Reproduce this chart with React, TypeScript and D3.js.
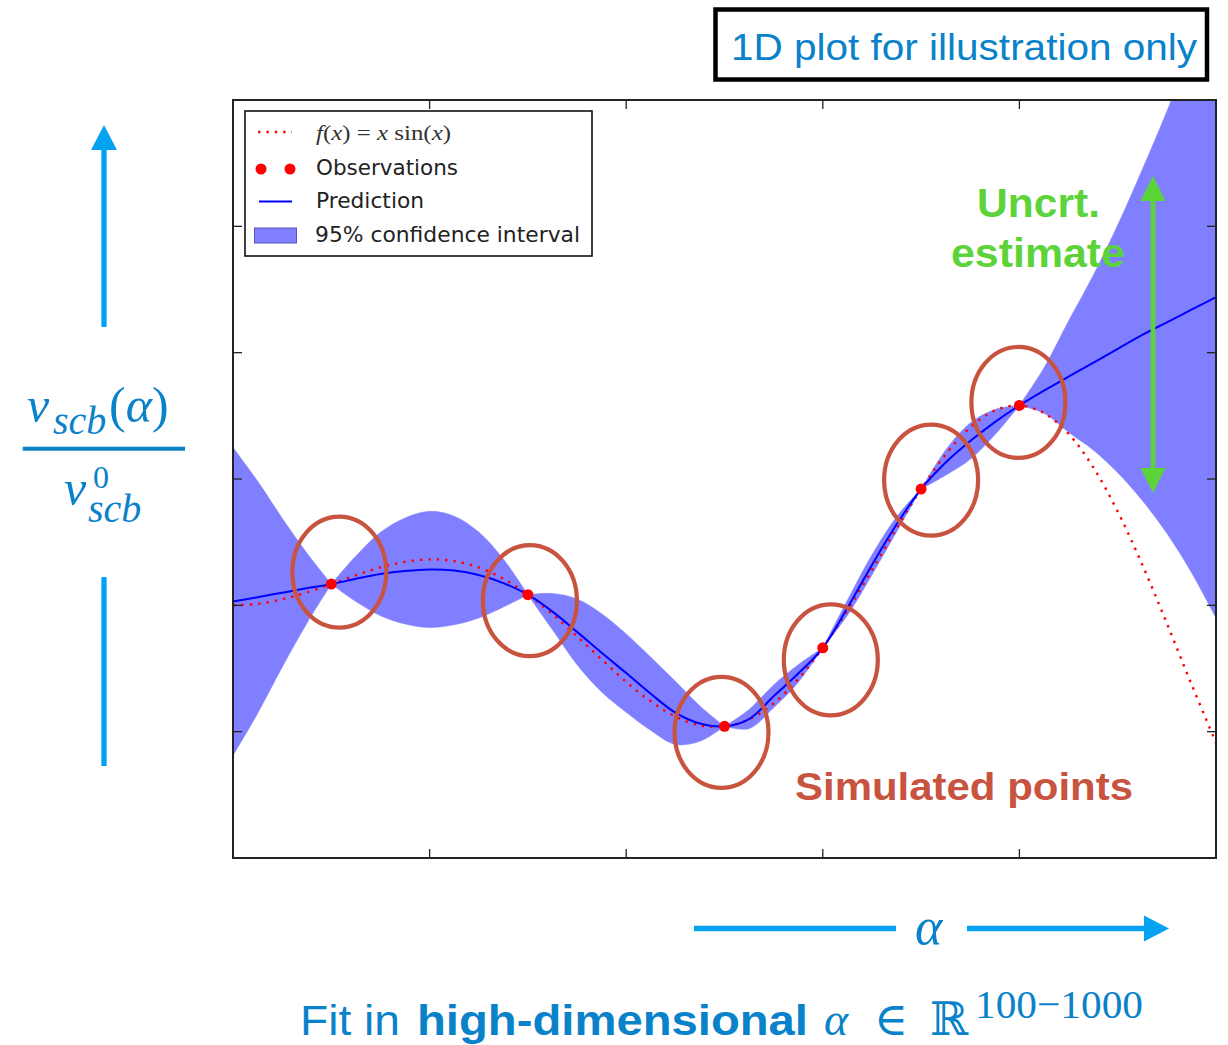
import React from 'react';
import * as d3 from 'd3';

// ---------- data ----------
const X_GRID = [0, 0.25, 0.5, 0.75, 1, 1.25, 1.5, 1.75, 2, 2.25, 2.5, 2.75, 3, 3.25, 3.5, 3.75, 4, 4.25, 4.5, 4.75, 5, 5.25, 5.5, 5.75, 6, 6.25, 6.5, 6.75, 7, 7.25, 7.5, 7.75, 8, 8.25, 8.5, 8.75, 9, 9.25, 9.5, 9.75, 10];

// f(x) = x sin(x) (red dotted curve)
const F_TRUE = [0, 0.06, 0.24, 0.51, 0.84, 1.19, 1.5, 1.72, 1.82, 1.75, 1.5, 1.05, 0.42, -0.35, -1.23, -2.14, -3.03, -3.8, -4.4, -4.75, -4.79, -4.51, -3.88, -2.92, -1.68, -0.21, 1.4, 3.04, 4.6, 5.97, 7.04, 7.71, 7.91, 7.61, 6.79, 5.47, 3.71, 1.61, -0.71, -3.12, -5.44];

// GP prediction (blue line)
const PRED = [0.15, 0.32, 0.5, 0.68, 0.84, 1.05, 1.24, 1.36, 1.42, 1.38, 1.2, 0.88, 0.42, -0.25, -1.05, -1.88, -2.68, -3.5, -4.25, -4.68, -4.79, -4.5, -3.6, -2.7, -1.68, -0.1, 1.6, 3.2, 4.6, 5.65, 6.5, 7.25, 7.91, 8.5, 9.05, 9.6, 10.15, 10.7, 11.2, 11.7, 12.2];

// half width of the 95% confidence interval
const CI_HALF = [6.1, 4.6, 2.95, 1.4, 0, 0.9, 1.65, 2.1, 2.3, 2.15, 1.7, 0.95, 0, 0.72, 1.3, 1.55, 1.55, 1.45, 1.25, 0.7, 0, 0.38, 0.45, 0.35, 0, 0.3, 0.4, 0.3, 0, 0.5, 0.72, 0.5, 0, 0.9, 2.2, 3.45, 4.9, 6.55, 8.35, 10.4, 12.7];

const OBS_X = [1, 3, 5, 6, 7, 8];
const OBS_Y = [0.84, 0.42, -4.79, -1.68, 4.6, 7.91];

const X_TICKS = [2, 4, 6, 8];
const Y_TICKS = [-5, 0, 5, 10, 15];

const LEGEND_LABELS = ['Observations', 'Prediction', '95% confidence interval'];

// ---------- styles ----------
const BAND = '#7f7fff';
const LINE_BLUE = '#0000ff';
const RED = '#ff0000';
const CIRCLE = '#c8533f';
const GREEN = '#5dd33a';
const TEXT_BLUE = '#0a82ca';
const ARROW_BLUE = '#06a2f2';
const SANS = '"Liberation Sans", Arial, Helvetica, sans-serif';
const SERIF = '"Liberation Serif", "DejaVu Serif", serif';
const MPL = '"DejaVu Sans", sans-serif';

// annotation ellipse offsets (px) relative to each observation
const ELL_DX = [8, 2, -3, 8, 10, -1];
const ELL_DY = [-12, 6, 6, 12, -9, -3];

export default function App() {
  const x = d3.scaleLinear().domain([0, 10]).range([233, 1216]);
  const y = d3.scaleLinear().domain([-10, 20]).range([858, 100]);
  const [x0, x1] = x.range();
  const [yb, yt] = y.range();

  const idx = X_GRID.map((_, i) => i);
  const lineF = d3
    .line<number>()
    .x((i) => x(X_GRID[i]))
    .y((i) => y(F_TRUE[i]))
    .curve(d3.curveCatmullRom.alpha(0.5));
  const lineP = d3
    .line<number>()
    .x((i) => x(X_GRID[i]))
    .y((i) => y(PRED[i]))
    .curve(d3.curveCatmullRom.alpha(0.5));
  const area = d3
    .area<number>()
    .x((i) => x(X_GRID[i]))
    .y0((i) => y(PRED[i] - CI_HALF[i]))
    .y1((i) => y(PRED[i] + CI_HALF[i]))
    .curve(d3.curveCatmullRom.alpha(0.5));

  // split the band where it pinches to zero
  const breaks = [0, ...idx.filter((i) => CI_HALF[i] === 0), idx.length - 1];
  const segments: number[][] = [];
  for (let k = 0; k < breaks.length - 1; k++) {
    if (breaks[k + 1] > breaks[k]) segments.push(d3.range(breaks[k], breaks[k + 1] + 1));
  }

  return (
    <svg
      width={1228}
      height={1045}
      style={{ position: 'absolute', left: 0, top: 0, background: '#fff' }}
    >
      <defs>
        <clipPath id="plotClip">
          <rect x={x0} y={yt} width={x1 - x0} height={yb - yt} />
        </clipPath>
      </defs>

      {/* top-right note */}
      <rect x={715.5} y={9.5} width={1207 - 715.5} height={79.5 - 9.5} fill="#fff" stroke="#000" strokeWidth={4.5} />
      <text x={731} y={59.5} fontFamily={SANS} fontSize={37} fill={TEXT_BLUE} textLength={466} lengthAdjust="spacingAndGlyphs">
        1D plot for illustration only
      </text>

      {/* plot content */}
      <g clipPath="url(#plotClip)">
        {segments.map((s, k) => (
          <path key={k} d={area(s) || ''} fill={BAND} stroke={BAND} strokeWidth={0.5} />
        ))}
        <path d={lineF(idx) || ''} fill="none" stroke={RED} strokeWidth={2.4} strokeDasharray="2.4 6" />
        <path d={lineP(idx) || ''} fill="none" stroke={LINE_BLUE} strokeWidth={2} />
        {OBS_X.map((v, i) => (
          <circle key={i} cx={x(v)} cy={y(OBS_Y[i])} r={5.5} fill={RED} />
        ))}
      </g>

      {/* frame and ticks */}
      <rect x={x0} y={yt} width={x1 - x0} height={yb - yt} fill="none" stroke="#222" strokeWidth={2} />
      {X_TICKS.map((t) => (
        <g key={'xt' + t} stroke="#222" strokeWidth={1.3}>
          <line x1={x(t)} x2={x(t)} y1={yb} y2={yb - 9} />
          <line x1={x(t)} x2={x(t)} y1={yt} y2={yt + 9} />
        </g>
      ))}
      {Y_TICKS.map((t) => (
        <g key={'yt' + t} stroke="#222" strokeWidth={1.3}>
          <line x1={x0} x2={x0 + 9} y1={y(t)} y2={y(t)} />
          <line x1={x1} x2={x1 - 9} y1={y(t)} y2={y(t)} />
        </g>
      ))}

      {/* legend */}
      <g>
        <rect x={245} y={111} width={347} height={145} fill="#fff" stroke="#111" strokeWidth={1.6} />
        <line x1={258} x2={292} y1={132} y2={132} stroke={RED} strokeWidth={2.4} strokeDasharray="2.4 6" />
        <text x={316} y={140} fontFamily={SERIF} fontSize={21} fill="#333" textLength={135} lengthAdjust="spacingAndGlyphs">
          <tspan fontStyle="italic">f</tspan>(<tspan fontStyle="italic">x</tspan>) = <tspan fontStyle="italic">x</tspan> sin(<tspan fontStyle="italic">x</tspan>)
        </text>
        <circle cx={261} cy={169} r={5.5} fill={RED} />
        <circle cx={290} cy={169} r={5.5} fill={RED} />
        <text x={316} y={175} fontFamily={MPL} fontSize={21} fill="#222" textLength={142} lengthAdjust="spacingAndGlyphs">
          {LEGEND_LABELS[0]}
        </text>
        <line x1={259} x2={292} y1={201.5} y2={201.5} stroke={LINE_BLUE} strokeWidth={2} />
        <text x={316} y={208} fontFamily={MPL} fontSize={21} fill="#222" textLength={108} lengthAdjust="spacingAndGlyphs">
          {LEGEND_LABELS[1]}
        </text>
        <rect x={254.5} y={228} width={42} height={15} fill={BAND} stroke="#5555bb" strokeWidth={1} />
        <text x={315} y={242} fontFamily={MPL} fontSize={21} fill="#222" textLength={265} lengthAdjust="spacingAndGlyphs">
          {LEGEND_LABELS[2]}
        </text>
      </g>

      {/* circles around simulated points */}
      {OBS_X.map((v, i) => (
        <ellipse
          key={'e' + i}
          cx={x(v) + ELL_DX[i]}
          cy={y(OBS_Y[i]) + ELL_DY[i]}
          rx={47}
          ry={55.5}
          fill="none"
          stroke={CIRCLE}
          strokeWidth={4.2}
        />
      ))}

      {/* uncertainty annotation */}
      <line x1={1153} x2={1153} y1={196} y2={474} stroke={GREEN} strokeWidth={4.7} />
      <polygon points="1153,176 1140.5,201 1165.5,201" fill={GREEN} />
      <polygon points="1153,493 1140.5,468 1165.5,468" fill={GREEN} />
      <text x={977} y={217} fontFamily={SANS} fontWeight="bold" fontSize={41} fill={GREEN} textLength={123} lengthAdjust="spacingAndGlyphs">
        Uncrt.
      </text>
      <text x={951} y={267} fontFamily={SANS} fontWeight="bold" fontSize={41} fill={GREEN} textLength={174} lengthAdjust="spacingAndGlyphs">
        estimate
      </text>

      <text x={795} y={800} fontFamily={SANS} fontWeight="bold" fontSize={38} fill={CIRCLE} textLength={338} lengthAdjust="spacingAndGlyphs">
        Simulated points
      </text>

      {/* y label with arrows */}
      <line x1={104} x2={104} y1={146} y2={327} stroke={ARROW_BLUE} strokeWidth={5.3} />
      <polygon points="104,125 91,150 117,150" fill={ARROW_BLUE} />
      <line x1={104} x2={104} y1={577} y2={766} stroke={ARROW_BLUE} strokeWidth={5.3} />

      <g fill={TEXT_BLUE} fontFamily={SERIF}>
        <text x={27} y={422} fontSize={50}>
          <tspan fontStyle="italic">ν</tspan>
          <tspan x={53} y={434} fontSize={40} fontStyle="italic">scb</tspan>
          <tspan x={109} y={422}>(</tspan>
          <tspan fontStyle="italic">α</tspan>
          <tspan>)</tspan>
        </text>
        <rect x={22.7} y={446.7} width={162.3} height={4} />
        <text x={64} y={505} fontSize={50}>
          <tspan fontStyle="italic">ν</tspan>
          <tspan x={93} y={488} fontSize={32}>0</tspan>
          <tspan x={88} y={522} fontSize={40} fontStyle="italic">scb</tspan>
        </text>
      </g>

      {/* x label with arrows */}
      <line x1={694} x2={896} y1={928.5} y2={928.5} stroke={ARROW_BLUE} strokeWidth={5.6} />
      <line x1={967} x2={1148} y1={928.5} y2={928.5} stroke={ARROW_BLUE} strokeWidth={5.6} />
      <polygon points="1169,928.5 1144,915.5 1144,941.5" fill={ARROW_BLUE} />
      <text x={915} y={944} fontFamily={SERIF} fontStyle="italic" fontSize={52} fill={TEXT_BLUE}>α</text>

      {/* bottom caption */}
      <g fill={TEXT_BLUE}>
        <text x={300} y={1035} fontFamily={SANS} fontSize={42} textLength={100} lengthAdjust="spacingAndGlyphs">Fit in</text>
        <text x={417} y={1035} fontFamily={SANS} fontWeight="bold" fontSize={42} textLength={391} lengthAdjust="spacingAndGlyphs">high-dimensional</text>
        <text x={824} y={1035} fontFamily={SERIF} fontStyle="italic" fontSize={46}>α</text>
        <text x={874} y={1035} fontFamily={SERIF} fontSize={46}>∈</text>
        <text x={930} y={1035} fontFamily={SERIF} fontSize={46}>ℝ</text>
        <text x={975} y={1018} fontFamily={SERIF} fontSize={41} textLength={168} lengthAdjust="spacingAndGlyphs">100−1000</text>
      </g>
    </svg>
  );
}
